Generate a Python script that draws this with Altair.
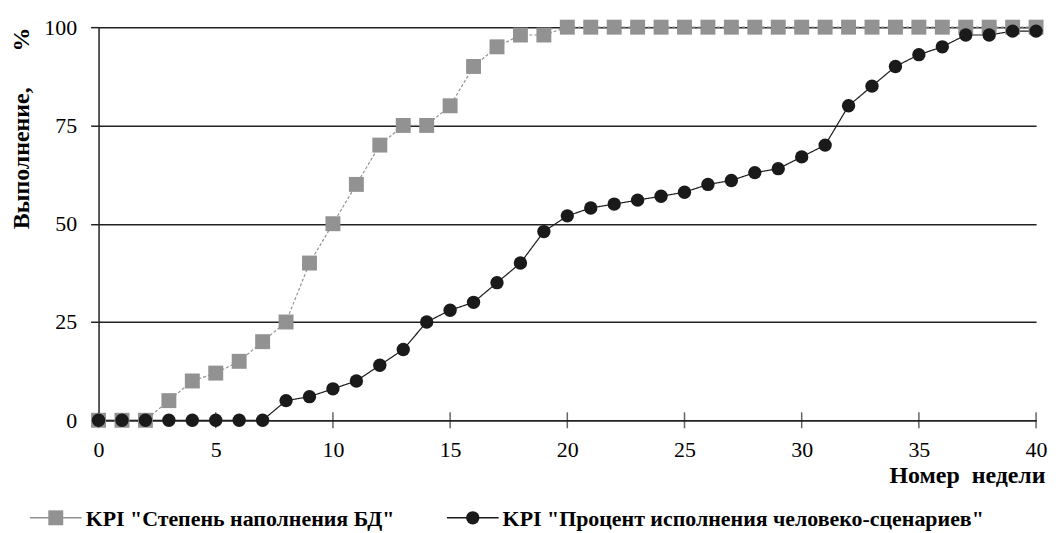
import altair as alt
import pandas as pd

weeks = list(range(0, 41))
kpi_db = [0, 0, 0, 5, 10, 12, 15, 20, 25, 40, 50, 60, 70, 75, 75, 80, 90, 95, 98, 98,
          100, 100, 100, 100, 100, 100, 100, 100, 100, 100, 100, 100, 100, 100, 100, 100,
          100, 100, 100, 100, 100]
kpi_scen = [0, 0, 0, 0, 0, 0, 0, 0, 5, 6, 8, 10, 14, 18, 25, 28, 30, 35, 40, 48,
            52, 54, 55, 56, 57, 58, 60, 61, 63, 64, 67, 70, 80, 85, 90, 93, 95, 98, 98, 99, 99]
series_names = ['KPI "Степень наполнения БД"', 'KPI "Процент исполнения человеко-сценариев"']
series_colors = ["#929292", "#1a1a1a"]
x_ticks = [0, 5, 10, 15, 20, 25, 30, 35, 40]
y_ticks = [0, 25, 50, 75, 100]

rows = []
for w, v in zip(weeks, kpi_db):
    rows.append({"week": w, "value": v, "series": series_names[0]})
for w, v in zip(weeks, kpi_scen):
    rows.append({"week": w, "value": v, "series": series_names[1]})
df = pd.DataFrame(rows)
ticks_df = pd.DataFrame({"t": x_ticks, "zero": [0] * len(x_ticks)})

FONT = "Liberation Serif"

xscale = alt.Scale(domain=[0, 40], nice=False, zero=False)
yscale = alt.Scale(domain=[0, 100], nice=False)

x_enc = alt.X(
    "week:Q", scale=xscale,
    axis=alt.Axis(
        values=x_ticks, ticks=False, grid=False, domainColor="#222", domainWidth=1.5,
        labelFont=FONT, labelFontSize=22, labelColor="#000", labelPadding=19,
        title="Номер\u2002недели", titleFont=FONT, titleFontSize=24, titleFontWeight="bold",
        titleColor="#000", titleAnchor="end", titleAlign="right", titleBaseline="top",
        titleX=951, titleY=44,
    ),
)
y_enc = alt.Y(
    "value:Q", scale=yscale,
    axis=alt.Axis(
        values=y_ticks, tickSize=8, tickColor="#222", tickWidth=1.5,
        grid=True, gridColor="#222", gridWidth=1.5,
        domainColor="#222", domainWidth=1.5,
        labelFont=FONT, labelFontSize=22, labelColor="#000", labelPadding=14,
        title="Выполнение,\u2003\u2002%", titleFont=FONT, titleFontSize=24,
        titleFontWeight="bold", titleColor="#000", titleAnchor="end",
        titleAlign="right", titleBaseline="top", titleAngle=-90, titleX=-89, titleY=0,
    ),
)

lines = alt.Chart(df).mark_line(strokeWidth=1.2).encode(
    x=x_enc,
    y=y_enc,
    stroke=alt.Stroke("series:N", scale=alt.Scale(domain=series_names, range=series_colors), legend=None),
    strokeDash=alt.StrokeDash("series:N", scale=alt.Scale(domain=series_names, range=[[3, 2], [1, 0]]), legend=None),
    detail="series:N",
)

squares = alt.Chart(df).transform_filter(alt.datum.series == series_names[0]).mark_square(
    size=225, opacity=1, color=series_colors[0]
).encode(x="week:Q", y="value:Q")

circles = alt.Chart(df).transform_filter(alt.datum.series == series_names[1]).mark_circle(
    size=180, opacity=1, color=series_colors[1]
).encode(x="week:Q", y="value:Q")

xticks = alt.Chart(ticks_df).mark_tick(orient="vertical", size=16, thickness=1.5, color="#222").encode(
    x="t:Q",
    y="zero:Q",
)

# legend below the chart (line through marker + label)
leg1 = pd.DataFrame({"label": [series_names[0]]})
leg2 = pd.DataFrame({"label": [series_names[1]]})
LEG_Y = 493
LEG_FS = 22

leg_line1 = alt.Chart(leg1).mark_rule(color=series_colors[0], strokeWidth=1.5).encode(
    x=alt.value(-69), x2=alt.value(-17), y=alt.value(LEG_Y))
leg_mark1 = alt.Chart(leg1).mark_square(size=225, opacity=1, color=series_colors[0]).encode(
    x=alt.value(-43), y=alt.value(LEG_Y))
leg_text1 = alt.Chart(leg1).mark_text(
    align="left", baseline="middle", font=FONT, fontSize=LEG_FS, fontWeight="bold", color="#000"
).encode(x=alt.value(-13), y=alt.value(LEG_Y + 1), text="label:N")

leg_line2 = alt.Chart(leg2).mark_rule(color=series_colors[1], strokeWidth=1.5).encode(
    x=alt.value(350), x2=alt.value(402), y=alt.value(LEG_Y))
leg_mark2 = alt.Chart(leg2).mark_circle(size=180, opacity=1, color=series_colors[1]).encode(
    x=alt.value(376), y=alt.value(LEG_Y))
leg_text2 = alt.Chart(leg2).mark_text(
    align="left", baseline="middle", font=FONT, fontSize=LEG_FS, fontWeight="bold", color="#000"
).encode(x=alt.value(406), y=alt.value(LEG_Y + 1), text="label:N")

chart = alt.layer(
    lines, xticks, squares, circles,
    leg_line1, leg_mark1, leg_text1, leg_line2, leg_mark2, leg_text2,
).properties(
    width=942, height=395,
    autosize=alt.AutoSizeParams(type="none"),
    padding={"left": 91, "top": 18, "right": 12, "bottom": 110},
).configure_view(stroke=None).configure_axis(labelFlush=False)

chart.save("out.html", embed_options={"renderer": "svg", "actions": False})
